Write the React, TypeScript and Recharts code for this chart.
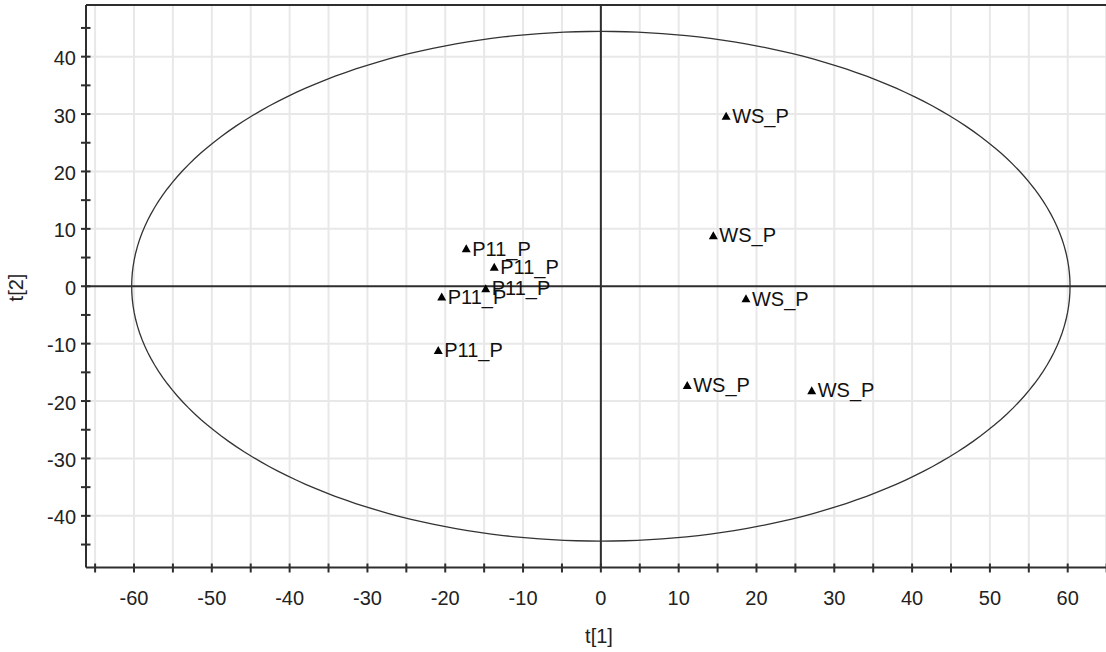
import React from 'react';
import { ScatterChart, Scatter, XAxis, YAxis, CartesianGrid, ReferenceLine } from 'recharts';

const P11_X = [-17.3, -13.7, -14.8, -20.45, -20.9];
const P11_Y = [6.6, 3.4, -0.35, -1.8, -11.1];
const WS_X = [16.1, 14.45, 18.65, 11.1, 27.1];
const WS_Y = [29.7, 8.9, -2.1, -17.2, -18.1];

const X_TICKS = [-65, -60, -55, -50, -45, -40, -35, -30, -25, -20, -15, -10, -5, 0, 5, 10, 15, 20, 25, 30, 35, 40, 45, 50, 55, 60, 65];
const Y_TICKS = [-45, -40, -35, -30, -25, -20, -15, -10, -5, 0, 5, 10, 15, 20, 25, 30, 35, 40, 45];
const Y_GRID = [-40, -30, -20, -10, 10, 20, 30, 40];
const X_DOMAIN: [number, number] = [-66.17, 64.92];
const Y_DOMAIN: [number, number] = [-49, 49];

const ELLIPSE_A = 60.3;
const ELLIPSE_B = 44.4;
const ELLIPSE_STEPS = 240;

const p11Data = P11_X.map((x, i) => ({ x, y: P11_Y[i], name: 'P11_P' }));
const wsData = WS_X.map((x, i) => ({ x, y: WS_Y[i], name: 'WS_P' }));
const ellipseData = Array.from({ length: ELLIPSE_STEPS + 1 }, (_, i) => {
  const t = (i / ELLIPSE_STEPS) * Math.PI * 2;
  return { x: ELLIPSE_A * Math.cos(t), y: ELLIPSE_B * Math.sin(t) };
});

const FONT = '"Liberation Sans", Arial, sans-serif';
const AXIS_COLOR = '#2e2e2e';
const TEXT_COLOR = '#222';

const XTick = (props: any) => {
  const { x, y, payload } = props;
  const v = payload.value;
  return (
    <g>
      <line x1={x} x2={x} y1={y - 4} y2={y + 5} stroke={AXIS_COLOR} strokeWidth={2} />
      {v % 10 === 0 && (
        <text x={x} y={y + 37} textAnchor="middle" fontSize={20} fontFamily={FONT} fill={TEXT_COLOR}>
          {v}
        </text>
      )}
    </g>
  );
};

const YTick = (props: any) => {
  const { x, y, payload } = props;
  const v = payload.value;
  return (
    <g>
      <line x1={x - 5} x2={x + 4.5} y1={y} y2={y} stroke={AXIS_COLOR} strokeWidth={2} />
      {v % 10 === 0 && (
        <text x={x - 10} y={y + 8.5} textAnchor="end" fontSize={20} fontFamily={FONT} fill={TEXT_COLOR}>
          {v}
        </text>
      )}
    </g>
  );
};

const TriangleLabel = (props: any) => {
  const { cx, cy, payload } = props;
  if (cx == null || cy == null) return <g />;
  return (
    <g>
      <polygon
        points={`${cx},${cy - 4} ${cx - 4.5},${cy + 4} ${cx + 4.5},${cy + 4}`}
        fill="#000"
      />
      <text x={cx + 6} y={cy + 7.2} fontSize={20} fontFamily={FONT} fill="#111">
        {payload.name}
      </text>
    </g>
  );
};

const NoShape = () => <g />;

export default function App() {
  return (
    <div style={{ position: 'absolute', left: 0, top: 0, width: 1106, height: 652, background: '#fff' }}>
      <ScatterChart width={1106} height={652} margin={{ top: 5, right: 0, bottom: 0, left: 0 }}>
        <CartesianGrid horizontal={false} vertical={true} stroke="#e8e8e8" strokeWidth={2} />
        {Y_GRID.map((g) => (
          <ReferenceLine key={'g' + g} y={g} stroke="#e8e8e8" strokeWidth={2} />
        ))}
        <XAxis
          type="number"
          dataKey="x"
          domain={X_DOMAIN}
          allowDataOverflow
          ticks={X_TICKS}
          interval={0}
          height={84.5}
          tickSize={0}
          tickMargin={0}
          tickLine={false}
          axisLine={{ stroke: AXIS_COLOR, strokeWidth: 2 }}
          tick={<XTick />}
        />
        <YAxis
          type="number"
          dataKey="y"
          domain={Y_DOMAIN}
          allowDataOverflow
          ticks={Y_TICKS}
          interval={0}
          width={86}
          tickSize={0}
          tickMargin={0}
          tickLine={false}
          axisLine={{ stroke: AXIS_COLOR, strokeWidth: 2 }}
          tick={<YTick />}
        />
        <ReferenceLine y={Y_DOMAIN[1]} stroke={AXIS_COLOR} strokeWidth={2} />
        <ReferenceLine x={0} stroke={AXIS_COLOR} strokeWidth={2} />
        <ReferenceLine y={0} stroke={AXIS_COLOR} strokeWidth={2} />
        <Scatter
          data={ellipseData}
          line={{ stroke: '#333', strokeWidth: 1.3 }}
          lineType="joint"
          shape={<NoShape />}
          isAnimationActive={false}
          legendType="none"
        />
        <Scatter data={p11Data} shape={<TriangleLabel />} isAnimationActive={false} />
        <Scatter data={wsData} shape={<TriangleLabel />} isAnimationActive={false} />
      </ScatterChart>
      <svg
        width={1106}
        height={652}
        style={{ position: 'absolute', left: 0, top: 0, pointerEvents: 'none' }}
      >
        <text x={599} y={643} textAnchor="middle" fontSize={20} fontFamily={FONT} fill={TEXT_COLOR}>
          t[1]
        </text>
        <text
          transform="translate(23,287.5) rotate(-90)"
          textAnchor="middle"
          fontSize={20}
          fontFamily={FONT}
          fill={TEXT_COLOR}
        >
          t[2]
        </text>
      </svg>
    </div>
  );
}
